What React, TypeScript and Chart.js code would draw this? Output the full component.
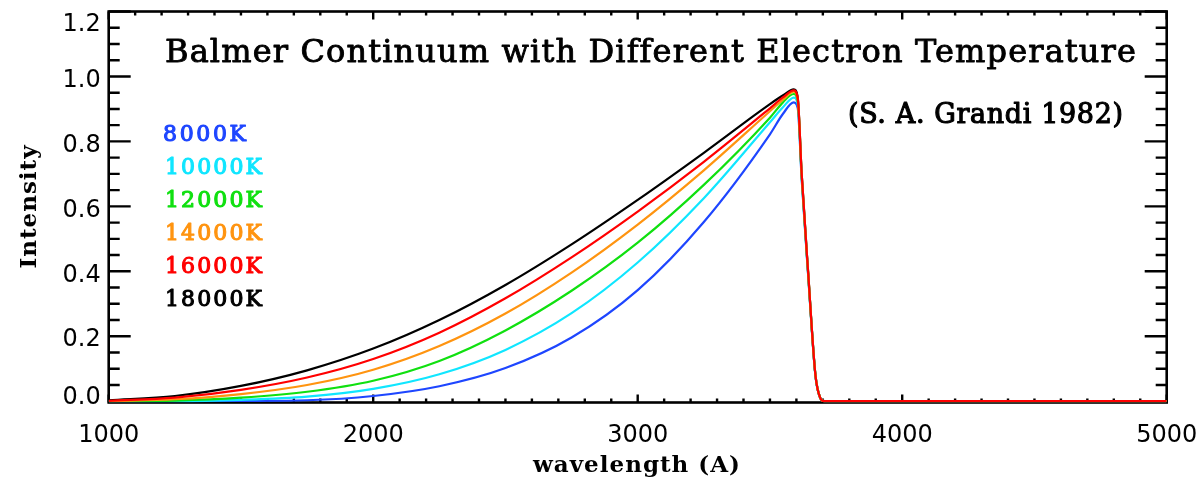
import React, { useEffect, useRef } from 'react';
import { Chart, registerables } from 'chart.js';

Chart.register(...registerables);

// Wavelength grid (Angstrom) shared by all series
const wavelengths = [1000, 1250, 1500, 1750, 2000, 2250, 2500, 2750, 3000, 3250, 3500, 3550, 3590, 3605, 3620, 3645, 3672, 3690, 3705, 3800, 4500, 5000];

// Intensity values
const t8000 = [0.0, 0.0, 0.001, 0.003, 0.016, 0.046, 0.102, 0.196, 0.342, 0.552, 0.822, 0.886, 0.92, 0.903, 0.683, 0.381, 0.078, 0.01, 0, 0, 0, 0];
const t10000 = [0.0, 0.0, 0.004, 0.014, 0.038, 0.083, 0.158, 0.271, 0.427, 0.625, 0.859, 0.906, 0.935, 0.915, 0.688, 0.384, 0.079, 0.01, 0, 0, 0, 0];
const t12000 = [0.0, 0.002, 0.011, 0.029, 0.063, 0.124, 0.218, 0.34, 0.488, 0.666, 0.873, 0.921, 0.946, 0.925, 0.693, 0.386, 0.08, 0.01, 0, 0, 0, 0];
const t14000 = [0.0, 0.006, 0.022, 0.05, 0.097, 0.17, 0.27, 0.396, 0.544, 0.711, 0.893, 0.929, 0.953, 0.93, 0.697, 0.388, 0.08, 0.01, 0, 0, 0, 0];
const t16000 = [0.001, 0.011, 0.035, 0.073, 0.13, 0.211, 0.317, 0.443, 0.584, 0.737, 0.902, 0.936, 0.957, 0.933, 0.7, 0.39, 0.08, 0.01, 0, 0, 0, 0];
const t18000 = [0.003, 0.016, 0.047, 0.095, 0.162, 0.25, 0.358, 0.483, 0.62, 0.765, 0.915, 0.942, 0.96, 0.935, 0.7, 0.39, 0.08, 0.01, 0, 0, 0, 0];

const seriesLabels = ['8000K', '10000K', '12000K', '14000K', '16000K', '18000K'];
const seriesValues = [t8000, t10000, t12000, t14000, t16000, t18000];
const seriesColors = ['#1e46ff', '#10e6ff', '#10e010', '#ff9410', '#ff0000', '#000000'];
const seriesDrawOrder = [4, 3, 2, 1, 0, 5];

const xMajorTicks = [1000, 2000, 3000, 4000, 5000];
const xTickLabels = ['1000', '2000', '3000', '4000', '5000'];
const yMajorTicks = [0, 0.2, 0.4, 0.6, 0.8, 1.0, 1.2];
const yTickLabels = ['0.0', '0.2', '0.4', '0.6', '0.8', '1.0', '1.2'];
const xMinorStep = 100;
const yMinorStep = 0.05;

const titleText = 'Balmer Continuum with Different Electron Temperature';
const citeText = '(S. A. Grandi 1982)';
const xTitle = 'wavelength (A)';
const yTitle = 'Intensity';

function fitText(ctx: CanvasRenderingContext2D, text: string, font: string, x: number, y: number, width: number, color: string, stroke = 0) {
  ctx.save();
  ctx.font = font;
  ctx.fillStyle = color;
  ctx.strokeStyle = color;
  ctx.textAlign = 'left';
  ctx.textBaseline = 'alphabetic';
  (ctx as any).letterSpacing = '0px';
  const w = ctx.measureText(text).width;
  const s = text.length > 1 ? (width - w) / (text.length - 1) : 0;
  (ctx as any).letterSpacing = s + 'px';
  ctx.fillText(text, x, y);
  if (stroke > 0) {
    ctx.lineWidth = stroke;
    ctx.lineJoin = 'round';
    ctx.strokeText(text, x, y);
  }
  ctx.restore();
}

const idlPlugin = {
  id: 'idlFrame',
  beforeDatasetsDraw(chart: any) {
    const { ctx, chartArea: a, scales } = chart;
    const xs = scales.x, ys = scales.y;
    ctx.save();
    ctx.strokeStyle = '#000';
    ctx.lineWidth = 2.6;
    ctx.strokeRect(a.left, a.top, a.right - a.left, a.bottom - a.top);
    ctx.lineWidth = 2.4;
    ctx.beginPath();
    // x ticks (top and bottom, inside)
    for (let i = 0; xs.min + i * xMinorStep <= xs.max + 1e-6; i++) {
      const v = xs.min + i * xMinorStep;
      const px = xs.getPixelForValue(v);
      const major = xMajorTicks.some((t) => Math.abs(t - v) < 1e-6);
      const len = major ? 8 : 4;
      ctx.moveTo(px, a.bottom); ctx.lineTo(px, a.bottom - len);
      ctx.moveTo(px, a.top); ctx.lineTo(px, a.top + len);
    }
    // y ticks (left and right, inside)
    for (let i = 0; yMajorTicks[0] + i * yMinorStep <= ys.max + 1e-6; i++) {
      const v = yMajorTicks[0] + i * yMinorStep;
      const py = ys.getPixelForValue(v);
      const major = yMajorTicks.some((t) => Math.abs(t - v) < 1e-6);
      const len = major ? 22 : 11;
      ctx.moveTo(a.left, py); ctx.lineTo(a.left + len, py);
      ctx.moveTo(a.right, py); ctx.lineTo(a.right - len, py);
    }
    ctx.stroke();
    ctx.restore();
  },
  afterDatasetsDraw(chart: any) {
    const { ctx, chartArea: a, scales } = chart;
    const xs = scales.x, ys = scales.y;
    ctx.save();
    ctx.fillStyle = '#000';
    ctx.font = '24px "DejaVu Sans"';
    ctx.textBaseline = 'alphabetic';
    // x tick labels
    ctx.textAlign = 'center';
    xMajorTicks.forEach((t, i) => {
      ctx.fillText(xTickLabels[i], xs.getPixelForValue(t), 442);
    });
    // y tick labels
    ctx.textAlign = 'right';
    yMajorTicks.forEach((t, i) => {
      let cy = ys.getPixelForValue(t) + 1.5;
      cy = Math.max(a.top + 10.5, Math.min(a.bottom - 7.5, cy));
      ctx.fillText(yTickLabels[i], a.left - 8, cy + 8.7);
    });
    ctx.restore();

    // titles
    fitText(ctx, titleText, '32px "DejaVu Serif"', 165, 62, 970, '#000', 0.9);
    fitText(ctx, citeText, '27px "DejaVu Serif"', 848, 123, 275, '#000', 1.1);
    fitText(ctx, xTitle, 'bold 23px "DejaVu Serif"', 533, 472, 207, '#000');
    ctx.save();
    ctx.translate(36, 207);
    ctx.rotate(-Math.PI / 2);
    fitText(ctx, yTitle, 'bold 23px "DejaVu Serif"', -61.5, 0, 123, '#000');
    ctx.restore();

    // legend as coloured text
    const ds = chart.data.datasets;
    ds.forEach((d: any, i: number) => {
      const label = d.label as string;
      const width = label.length === 5 ? 83 : 97;
      const x = label.length === 5 ? 163 : 165;
      fitText(ctx, label, '22px "DejaVu Serif"', x, 141 + i * 33, width, d.borderColor, 1.1);
    });
  },
};

export default function App() {
  const ref = useRef<HTMLCanvasElement | null>(null);
  useEffect(() => {
    document.body.style.margin = '0';
    const canvas = ref.current!;
    const datasets = seriesLabels.map((label, i) => ({
      label,
      data: wavelengths.map((w, j) => ({ x: w, y: seriesValues[i][j] })),
      borderColor: seriesColors[i],
      backgroundColor: seriesColors[i],
      borderWidth: 2.2,
      pointRadius: 0,
      cubicInterpolationMode: 'monotone' as const,
      fill: false,
      order: seriesDrawOrder[i],
    }));
    const chart = new Chart(canvas, {
      type: 'line',
      data: { datasets },
      options: {
        animation: false,
        responsive: false,
        devicePixelRatio: 1,
        layout: { padding: { left: 108.7, top: 11.5, right: 1204 - 1166.7, bottom: 483 - 402.5 } },
        plugins: { legend: { display: false }, tooltip: { enabled: false }, title: { display: false } },
        scales: {
          x: { type: 'linear', min: 1000, max: 5000, display: false },
          y: { type: 'linear', min: -0.004, max: 1.2, display: false },
        },
      },
      plugins: [idlPlugin],
    });
    return () => chart.destroy();
  }, []);
  return <canvas ref={ref} width={1204} height={483} style={{ display: 'block', width: 1204, height: 483 }} />;
}
